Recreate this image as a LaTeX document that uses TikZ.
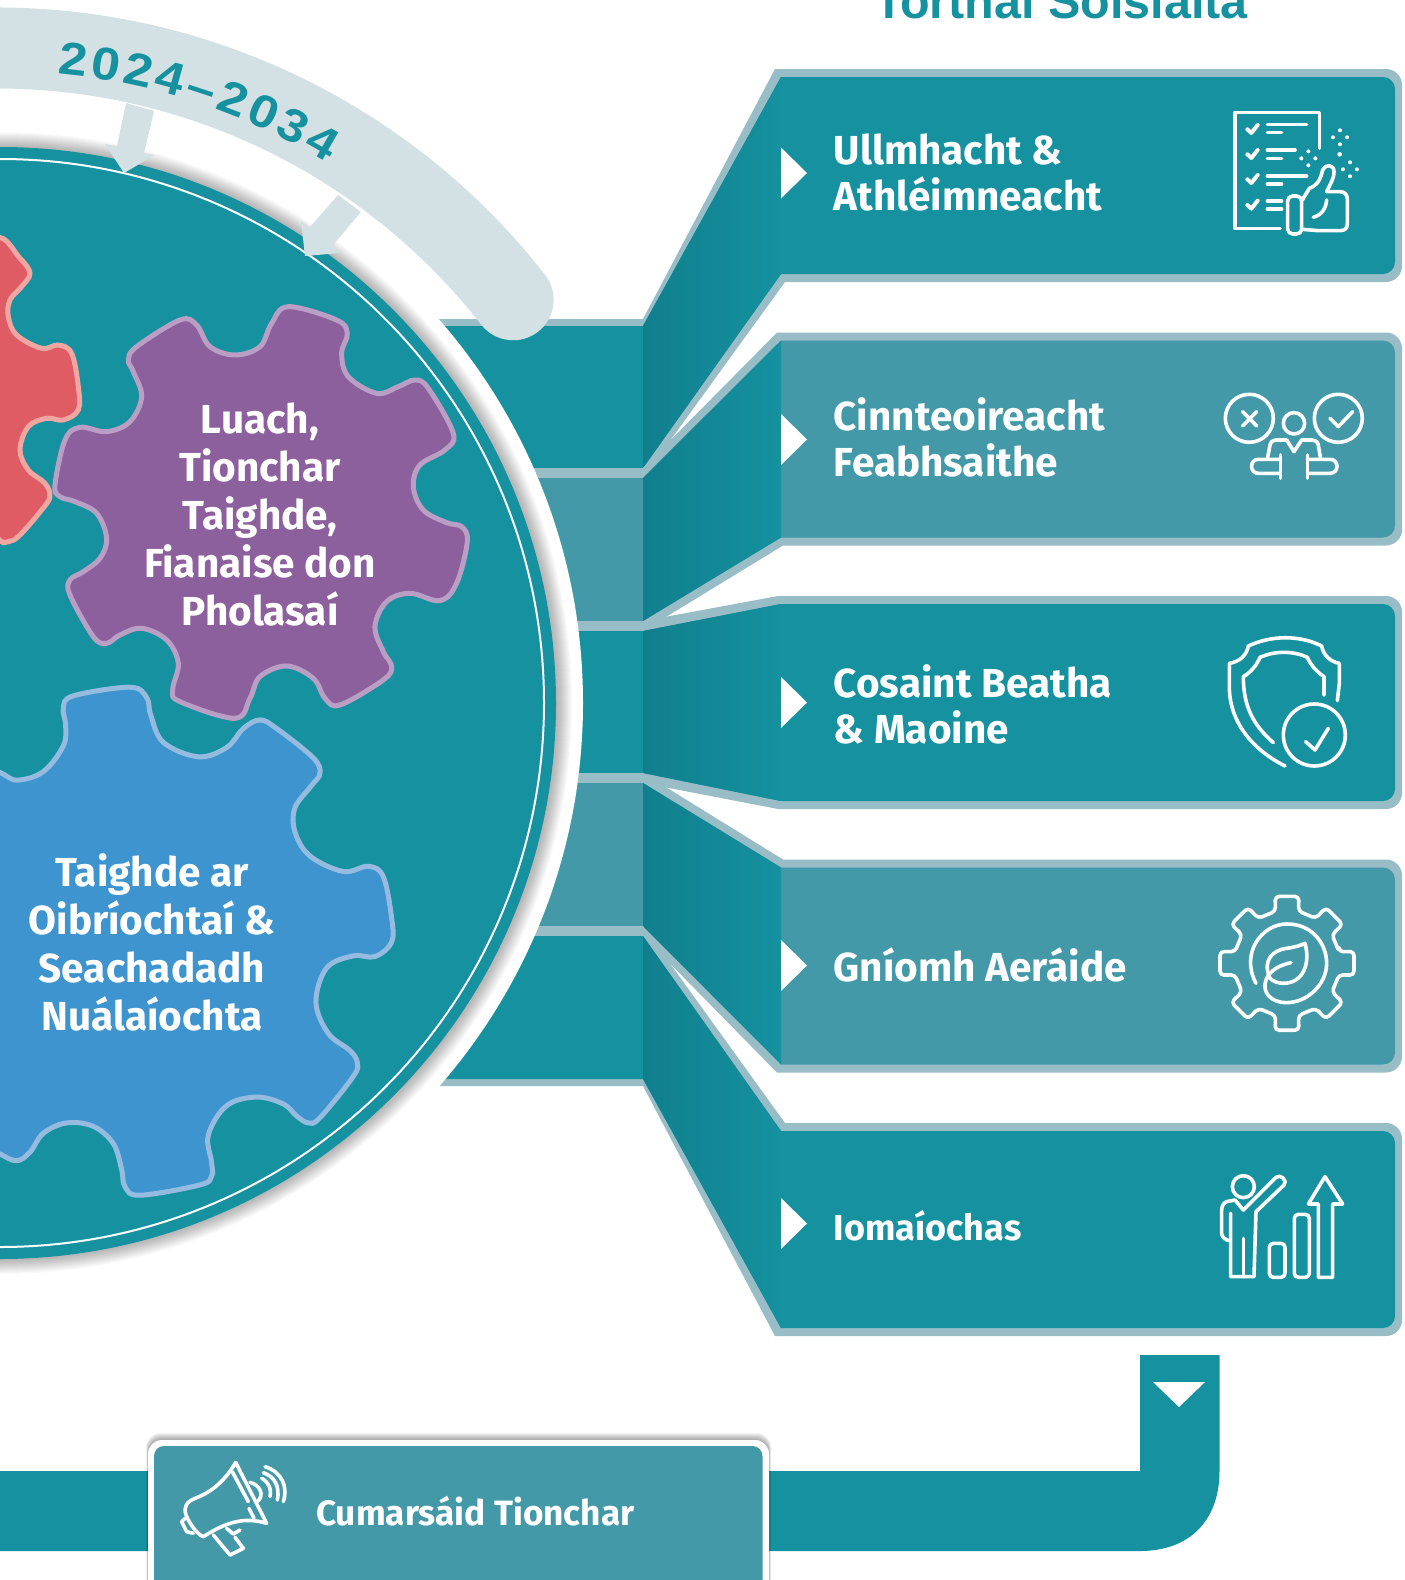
\documentclass[tikz,border=0pt]{standalone}
\usepackage{fontspec}
\setmainfont{Fira Sans}
\newfontfamily\yearfont{Liberation Sans}[BoldFont={Liberation Sans Bold},FakeStretch=1.12]
\newfontfamily\titlefont{Liberation Sans}[BoldFont={Liberation Sans Bold}]
\usetikzlibrary{decorations.text}
\definecolor{deepteal}{HTML}{15919F}
\definecolor{softteal}{HTML}{4399A7}
\definecolor{darkteal}{HTML}{107F8D}
\definecolor{rimblue}{HTML}{99BDC7}
\definecolor{bandgrey}{HTML}{D3E1E4}
\definecolor{gearpurple}{HTML}{8C609C}
\definecolor{gearpurplerim}{HTML}{BA9EC5}
\definecolor{gearblue}{HTML}{3D94CE}
\definecolor{gearbluerim}{HTML}{96BBE0}
\definecolor{gearred}{HTML}{E05C65}
\definecolor{gearredrim}{HTML}{F0A7A2}
\tikzset{
  x=1pt,y=-1pt,
  paneltext/.style={text=white,font=\bfseries\fontsize{40.5}{46}\selectfont,align=left,anchor=west,inner sep=0pt},
  geartext/.style={text=white,font=\bfseries\fontsize{40.5}{48}\selectfont,align=center,inner sep=0pt},
  gearline/.style={line width=5pt,line join=round},
  icon/.style={white,line width=3.6pt,line cap=round,line join=round},
}
\begin{document}
\begin{tikzpicture}
  \useasboundingbox (0,0) rectangle (1405,1580);
  % title, cut by the top of the page
  \node (title) [anchor=base,inner sep=0pt,text=deepteal,font=\titlefont\bfseries\fontsize{48.5}{48}\selectfont] at (1061,18) {Torthaí Sóisialta};
  % five branches
  \foreach \ot/\st/\sb/\ob/\pt/\tx/\bx/\col in {
    319/326/468/478/69/775/785/deepteal,
    468/478/621/631/332.5/777/783/softteal,
    621/631/773/783/596/778/778/deepteal,
    773/783/926/936/859.5/783/777/softteal,
    926/936/1079/1086/1123/785/775/deepteal}{
    \pgfmathsetmacro\pb{\pt+213}
    \fill [rimblue] (400,\ot)--(643,\ot)--(\tx,\pt) [rounded corners=16pt]--(1402,\pt)--(1402,\pb)[sharp corners]--(\bx,\pb)--(643,\ob)--(400,\ob)--cycle;
    \fill [\col] (400,\st)--(643,\st)--(781,\pt+8) [rounded corners=12pt]--(1395,\pt+8)--(1395,\pb-8)[sharp corners]--(781,\pb-8)--(643,\sb)--(400,\sb)--cycle;
    \shade [left color=darkteal,right color=deepteal] (643,\st)--(781,\pt+8)--(781,\pb-8)--(643,\sb)--cycle;
  }
  \foreach \y in {173,439.5,702.5,965.5,1223.5}
    \fill [white] (781,\y-25.5)--(807,\y)--(781,\y+25.5)--cycle;
  % disc
  \fill [white] (0,703) circle [radius=583];
  \foreach \k in {15,14,...,1}
    \fill [black,opacity=.02] (1,703) circle [radius=556+\k];
  \fill [deepteal] (0,703) circle [radius=556];
  \draw [white,line width=2pt] (0,703) circle [radius=544];
  % gears
  \begin{scope}[shift={(40,290)},x=.3333pt,y=-.3333pt]
    \draw [gearline,fill=gearpurple,draw=gearpurplerim] plot [smooth cycle,tension=.6] coordinates {(745,50)(890,90)(922,130)(905,190)(925,260)(1010,310)(1075,290)(1125,270)(1165,295)(1240,430)(1215,480)(1140,525)(1120,590)(1150,660)(1220,698)(1265,710)(1282,755)(1250,880)(1200,932)(1110,910)(1040,935)(1005,1010)(1030,1085)(1055,1130)(1030,1170)(900,1245)(855,1225)(820,1165)(740,1128)(660,1160)(630,1225)(585,1285)(420,1235)(398,1200)(415,1120)(380,1050)(305,1015)(240,1035)(200,1060)(160,1040)(90,915)(90,870)(130,845)(180,805)(200,745)(170,670)(105,635)(60,620)(45,585)(75,450)(120,412)(200,425)(270,395)(305,320)(280,245)(265,210)(290,170)(420,90)(470,105)(510,170)(585,195)(660,170)(695,100)};
  \end{scope}
  \begin{scope}[shift={(0,670)},x=.3333pt,y=-.3444pt]
    \draw [gearline,fill=gearblue,draw=gearbluerim] plot [smooth cycle,tension=.6] coordinates {(-30,305)(50,320)(130,295)(190,220)(197,160)(190,110)(220,75)(390,50)(440,80)(452,130)(490,210)(595,252)(680,225)(730,170)(780,145)(830,170)(940,255)(960,300)(935,335)(885,400)(885,470)(930,540)(1030,585)(1105,570)(1150,600)(1175,720)(1175,790)(1125,832)(1060,830)(980,865)(948,965)(985,1055)(1050,1105)(1072,1140)(1060,1180)(960,1300)(925,1315)(890,1295)(850,1260)(770,1240)(680,1265)(625,1350)(635,1430)(635,1470)(600,1495)(420,1525)(375,1500)(365,1450)(340,1375)(280,1325)(200,1315)(130,1345)(90,1400)(50,1425)(0,1405)(-40,1380)(-100,1000)(-100,500)};
  \end{scope}
  \begin{scope}[shift={(0,220)},x=.3333pt,y=-.3333pt]
    \draw [gearline,fill=gearred,draw=gearredrim] plot [smooth cycle,tension=.6] coordinates {(-10,55)(60,115)(90,160)(65,200)(30,240)(25,290)(50,345)(125,385)(175,375)(215,400)(235,500)(235,570)(190,600)(140,595)(85,620)(60,690)(85,750)(135,790)(150,830)(125,870)(60,945)(25,965)(-10,950)(-100,800)(-100,200)};
  \end{scope}
  \node (luach) [geartext] at (260,514) {Luach,\\Tionchar\\Taighde,\\Fianaise don\\Pholasaí};
  \node (taighde) [geartext] at (152,942) {Taighde ar\\Oibríochtaí \&\\Seachadadh\\Nuálaíochta};
  % band with year and arrows
  \draw [bandgrey,line width=81pt,line cap=round] (-3,703) ++(-100:655) arc [start angle=-100,end angle=-38,radius=655];
  \fill [bandgrey] (126,103)--(154,111)--(144,153)--(155,155)--(124,173)--(105,144)--(117,146)--cycle;
  \fill [bandgrey] (338,195)--(361,212)--(333,245)--(340,253)--(305,256)--(301,221)--(310,227)--cycle;
  \path [decorate,decoration={text along path,text align={fit to path},text={|\yearfont\bfseries\fontsize{46}{46}\selectfont\color{deepteal}|2024–2034}}] (0,703) ++(-84.8:632) arc [start angle=-84.8,end angle=-58.8,radius=632];
  % panel labels
  \node (ullmhacht) [paneltext] at (833.5,172.5) {Ullmhacht \&\\Athléimneacht};
  \node (cinnteoireacht) [paneltext] at (833.5,437.5) {Cinnteoireacht\\Feabhsaithe};
  \node (cosaint) [paneltext] at (833.5,704.5) {Cosaint Beatha\\\& Maoine};
  \node (gniomh) [paneltext] at (833.5,964.5) {Gníomh Aeráide};
  \node (iomaiochas) [paneltext,font=\bfseries\fontsize{36}{40}\selectfont] at (833.5,1226) {Iomaíochas};
  % checklist icon
  \begin{scope}[shift={(1190,90)},x=.3333pt,y=-.3333pt]
    \draw [icon] (388,175)--(388,67)--(135,67)--(135,415)--(270,415);
    \foreach \y in {118,193,268,345}
      \draw [icon,line width=4pt] (172,\y)--(184,\y+11)--(203,\y-13);
    \foreach \y/\e in {103/350,128/275,180/315,205/275,258/350,282/275,333/275,357/275}
      \draw [icon] (232,\y)--(\e,\y);
    \foreach \cx/\cy in {355/205,450/142,480/238}
      \foreach \dx/\dy in {21/0,-21/0,0/21,0/-21}
        \fill [white] (\cx+\dx,\cy+\dy) circle [radius=6];
    \fill [white] (449,193) circle [radius=7];
    \draw [icon,rounded corners=5pt] (293,318) rectangle (335,432);
    \draw [icon] (337,330)--(358,295) .. controls (385,285) and (392,265) .. (398,240) .. controls (405,222) and (432,222) .. (432,245) .. controls (432,270) and (418,285) .. (410,305)--(450,305) .. controls (465,305) and (472,315) .. (472,328)--(472,400) .. controls (472,415) and (465,422) .. (450,422)--(385,422)--(337,418);
    \draw [icon] (370,382) .. controls (395,375) and (408,355) .. (410,330);
  \end{scope}
  % decision icon
  \begin{scope}[shift={(1190,90)},x=.3333pt,y=-.3333pt]
    \draw [icon] (178,985) circle [radius=72];
    \draw [icon] (158,965)--(200,1008) (200,965)--(158,1008);
    \draw [icon] (445,985) circle [radius=72];
    \draw [icon] (420,985)--(445,1010)--(488,965);
    \draw [icon] (312,1000) circle [radius=32];
    \draw [icon] (232,1108)--(240,1065) .. controls (242,1055) and (250,1050) .. (258,1050)--(290,1050)--(312,1085)--(335,1050)--(366,1050) .. controls (375,1050) and (383,1055) .. (385,1065)--(392,1108);
    \draw [icon] (272,1095)--(272,1165) (352,1095)--(352,1165);
    \draw [icon] (272,1108)--(205,1108) .. controls (178,1108) and (178,1150) .. (205,1150)--(270,1150);
    \draw [icon] (352,1108)--(420,1108) .. controls (448,1108) and (448,1150) .. (420,1150)--(355,1150);
  \end{scope}
  % shield icon
  \begin{scope}[shift={(1190,620)},x=.3333pt,y=-.3333pt]
    \draw [icon] (285,438) .. controls (180,385) and (118,300) .. (118,200)--(118,130) .. controls (150,125) and (170,105) .. (175,78) .. controls (245,45) and (330,45) .. (395,78) .. controls (400,105) and (420,125) .. (448,130)--(448,190)--(442,242);
    \draw [icon] (250,368) .. controls (190,315) and (160,260) .. (160,170) .. controls (185,155) and (200,135) .. (210,112) .. controls (255,92) and (310,92) .. (352,112) .. controls (362,135) and (380,155) .. (402,170)--(402,225);
    \draw [icon] (373,345) circle [radius=93];
    \draw [icon] (347,365)--(375,390)--(415,325);
  \end{scope}
  % leaf gear icon
  \begin{scope}[shift={(1190,620)},x=.3333pt,y=-.3333pt]
    \begin{scope}[shift={(291,1030)}]
      \draw [icon,rounded corners=4pt] (-12.5:160) \foreach \a in {0,45,...,315}{ --(\a-12.5:160)--(\a-10:204)--(\a+10:204)--(\a+12.5:160)} --cycle;
    \end{scope}
    \draw [icon] (198,1090) .. controls (150,1000) and (215,912) .. (291,912) .. controls (370,912) and (410,975) .. (410,1030) .. controls (410,1095) and (350,1148) .. (290,1148) .. controls (240,1148) and (215,1115) .. (228,1080) .. controls (240,1050) and (270,1035) .. (303,1028);
    \draw [icon] (240,1075) .. controls (215,1020) and (250,990) .. (290,985) .. controls (315,982) and (335,975) .. (345,970) .. controls (362,1030) and (340,1090) .. (280,1090) .. controls (265,1090) and (250,1085) .. (240,1075);
  \end{scope}
  % growth icon
  \begin{scope}[shift={(1200,1160)},x=.3333pt,y=-.3333pt]
    \draw [icon] (130,80) circle [radius=33];
    \draw [icon] (105,120)--(130,150)--(228,52) .. controls (240,40) and (265,62) .. (252,75)--(168,155)--(162,350)--(92,350)--(92,160);
    \draw [icon] (105,120)--(80,125) .. controls (70,128) and (65,140) .. (65,150)--(65,222) .. controls (68,232) and (75,240) .. (85,242);
    \draw [icon] (130,235)--(130,350);
    \draw [icon,rounded corners=4pt] (208,250) rectangle (255,352);
    \draw [icon,rounded corners=4pt] (283,163) rectangle (328,352);
    \draw [icon] (355,352)--(355,132)--(325,132)--(375,50)--(428,132)--(398,132)--(398,352)--cycle;
  \end{scope}
  % flow bar
  \fill [deepteal] (1140,1355)--(1219.5,1355)--(1219.5,1471) .. controls (1219.5,1520) and (1190,1551) .. (1140,1551)--(0,1551)--(0,1471)--(1140,1471)--cycle;
  \fill [white] (1153,1382)--(1205,1382)--(1179,1407)--cycle;
  % box
  \foreach \k in {7,6,...,1}
    \fill [black,opacity=.05,rounded corners=14pt] (148-\k/4,1440-\k) rectangle (769+\k/4,1610);
  \fill [white,rounded corners=14pt] (148,1440) rectangle (769,1610);
  \fill [softteal,rounded corners=10pt] (154,1446) rectangle (762.5,1610);
  \node (cumarsaid) [paneltext,font=\bfseries\fontsize{35.2}{40}\selectfont] at (316,1511) {Cumarsáid Tionchar};
  % megaphone icon
  \begin{scope}[shift={(170,1450)},x=.3333pt,y=-.3333pt]
    \draw [icon] (197,37)--(290,220) .. controls (225,200) and (170,215) .. (100,260) .. controls (85,255) and (60,225) .. (48,195) .. controls (40,170) and (50,155) .. (75,145) .. controls (130,125) and (170,85) .. (197,37);
    \draw [icon] (187,65)--(235,155) (237,175)--(252,205);
    \draw [icon] (240,97) .. controls (270,105) and (285,135) .. (262,155);
    \draw [icon] (130,255)--(180,315)--(220,295)--(195,262);
    \draw [icon] (170,235)--(190,252)--(210,240);
    \draw [icon] (45,205)--(35,215)--(50,245)--(70,250);
    \draw [icon] (275,85) .. controls (295,95) and (305,115) .. (300,140);
    \draw [icon] (280,68) .. controls (315,80) and (330,110) .. (322,150);
    \draw [icon] (285,50) .. controls (335,65) and (355,110) .. (340,155);
  \end{scope}
\end{tikzpicture}
\end{document}
